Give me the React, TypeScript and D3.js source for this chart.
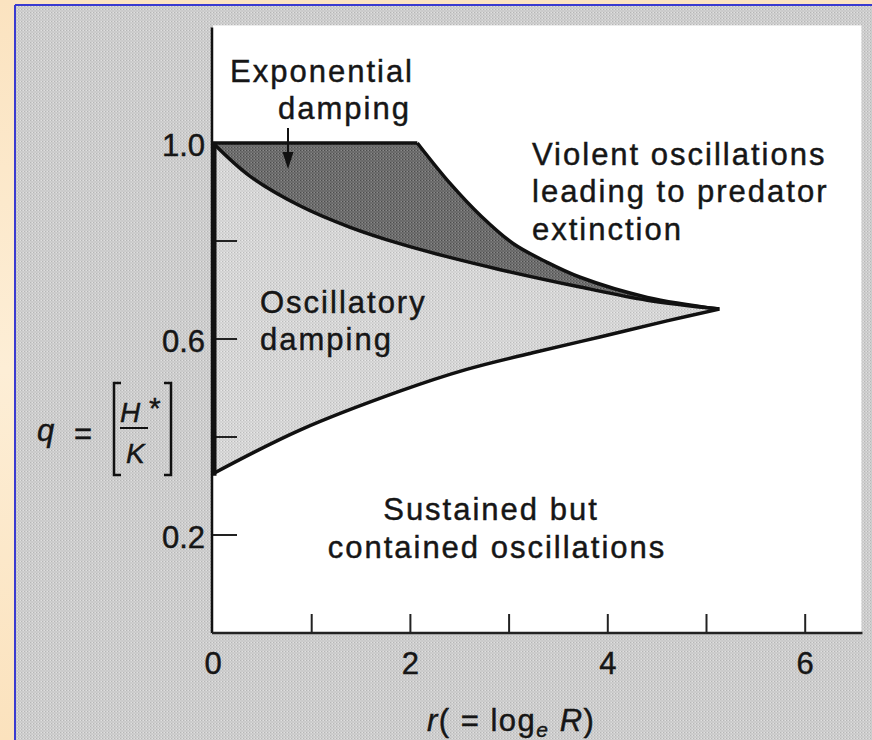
import React from "react";
import * as d3 from "d3";

// ---- data ----
const flatR = [0, 2.07];
const flatQ = [1.0, 1.0];
const upperR = [2.07, 2.4, 2.72, 3.04, 3.38, 3.72, 4.4, 5.13];
const upperQ = [1.0, 0.918, 0.85, 0.795, 0.757, 0.726, 0.685, 0.661];
const middleR = [0, 0.37, 0.88, 1.39, 1.9, 2.37, 2.9, 3.72, 4.4, 5.13];
const middleQ = [1.0, 0.933, 0.872, 0.828, 0.794, 0.768, 0.742, 0.706, 0.679, 0.661];
const lowerR = [0, 0.88, 1.9, 2.57, 3.24, 3.92, 4.6, 5.13];
const lowerQ = [0.325, 0.414, 0.494, 0.538, 0.572, 0.604, 0.637, 0.661];

const rTicks = [1, 2, 3, 4, 5, 6];
const rLabels = ["0", "2", "4", "6"];
const qTicks = [0.2, 0.4, 0.6, 0.8];
const qLabels = ["0.2", "0.6", "1.0"];

const rMax = 6.57;
const qMax = 1.24;

const FONT = "'Liberation Sans', Arial, Helvetica, sans-serif";

export default function App() {
  const x = d3.scaleLinear().domain([0, rMax]).range([213, 213 + rMax * 98.7]);
  const y = d3.scaleLinear().domain([0, 1]).range([633, 143]);

  const pts = (rs: number[], qs: number[]) => rs.map((r, i) => [r, qs[i]] as [number, number]);
  const line = d3
    .line<[number, number]>()
    .x((d) => x(d[0]))
    .y((d) => y(d[1]))
    .curve(d3.curveCatmullRom.alpha(0.5));
  const straight = d3
    .line<[number, number]>()
    .x((d) => x(d[0]))
    .y((d) => y(d[1]));

  const flat = pts(flatR, flatQ);
  const upper = pts(upperR, upperQ);
  const middle = pts(middleR, middleQ);
  const lower = pts(lowerR, lowerQ);

  const cont = (s: string | null) => (s || "").replace(/^M/, "L");

  const darkPath =
    (straight(flat) || "") + cont(line(upper)) + cont(line([...middle].reverse())) + "Z";
  const lightPath = (line(middle) || "") + cont(line([...lower].reverse())) + "Z";

  const textStyle: React.CSSProperties = {
    fontFamily: FONT,
    fontSize: 31,
    fill: "#161616",
    stroke: "#161616",
    strokeWidth: 0.45,
  };

  return (
    <svg
      width={872}
      height={740}
      style={{ position: "absolute", left: 0, top: 0, display: "block" }}
      xmlns="http://www.w3.org/2000/svg"
    >
      <defs>
        <linearGradient id="peach" x1="0" x2="0" y1="0" y2="1">
          <stop offset="0" stopColor="#fbe3c0" />
          <stop offset="0.5" stopColor="#fdeed6" />
          <stop offset="1" stopColor="#fbe2bd" />
        </linearGradient>
        <pattern id="bgTex" width="3" height="3" patternUnits="userSpaceOnUse">
          <rect width="3" height="3" fill="#cfcfcf" />
          <rect x="0" y="0" width="1" height="1" fill="#b6b6b6" />
          <rect x="1.5" y="1.5" width="1" height="1" fill="#bfbfbf" />
          <rect x="2" y="0" width="1" height="1" fill="#e0e0e0" />
        </pattern>
        <pattern id="lightTex" width="3" height="3" patternUnits="userSpaceOnUse">
          <rect width="3" height="3" fill="#d8d8d8" />
          <rect x="0" y="0" width="1" height="1" fill="#bcbcbc" />
          <rect x="1.5" y="1.5" width="1" height="1" fill="#c6c6c6" />
          <rect x="2" y="0" width="1" height="1" fill="#e8e8e8" />
        </pattern>
        <pattern id="darkTex" width="3" height="3" patternUnits="userSpaceOnUse">
          <rect width="3" height="3" fill="#707070" />
          <rect x="0" y="0" width="1" height="1" fill="#4c4c4c" />
          <rect x="1.5" y="1.5" width="1" height="1" fill="#585858" />
          <rect x="2" y="0" width="1" height="1" fill="#8a8a8a" />
        </pattern>
      </defs>

      {/* page frame */}
      <rect x={0} y={0} width={872} height={740} fill="url(#peach)" />
      <rect x={16} y={6} width={856} height={734} fill="url(#bgTex)" />
      <line x1={15} y1={5} x2={872} y2={5} stroke="#3a3ad0" strokeWidth={2} />
      <line x1={15} y1={5} x2={15} y2={740} stroke="#3a3ad0" strokeWidth={2} />

      {/* plot area */}
      <rect x={x(0)} y={y(qMax)} width={x(rMax) - x(0)} height={y(0) - y(qMax)} fill="#ffffff" />

      {/* regions */}
      <path d={lightPath} fill="url(#lightTex)" />
      <path d={darkPath} fill="url(#darkTex)" />

      {/* axes */}
      <line x1={x(0) - 1} y1={y(qMax) + 2} x2={x(0) - 1} y2={y(0)} stroke="#111" strokeWidth={2.5} />
      <line x1={x(0) - 1} y1={y(0)} x2={x(rMax) + 1} y2={y(0)} stroke="#222" strokeWidth={2.5} />
      {rTicks.map((t) => (
        <line key={"rt" + t} x1={x(t)} x2={x(t)} y1={y(0)} y2={y(0) - 19} stroke="#222" strokeWidth={2} />
      ))}
      {qTicks.map((t) => (
        <line key={"qt" + t} x1={x(0)} x2={x(0) + 24} y1={y(t)} y2={y(t)} stroke="#222" strokeWidth={2} />
      ))}

      {/* boundary curves */}
      <path d={straight(flat) || ""} fill="none" stroke="#111" strokeWidth={3.5} />
      <path d={line(upper) || ""} fill="none" stroke="#111" strokeWidth={3.5} />
      <path d={line(middle) || ""} fill="none" stroke="#111" strokeWidth={3.5} />
      <path d={line(lower) || ""} fill="none" stroke="#111" strokeWidth={3.5} />
      <line x1={x(0) + 1} x2={x(0) + 1} y1={y(1.0)} y2={y(lowerQ[0]) + 2} stroke="#111" strokeWidth={5} />

      {/* tick labels */}
      {rLabels.map((t) => (
        <text key={"rl" + t} x={x(+t)} y={674} textAnchor="middle" style={textStyle}>
          {t}
        </text>
      ))}
      {qLabels.map((t) => (
        <text key={"ql" + t} x={205} y={y(+t) + 13} textAnchor="end" style={textStyle}>
          {t}
        </text>
      ))}

      {/* region labels */}
      <g style={textStyle} letterSpacing={2}>
        <text x={230} y={82}>Exponential</text>
        <text x={278} y={119}>damping</text>
        <text x={532} y={165}>Violent oscillations</text>
        <text x={532} y={202}>leading to predator</text>
        <text x={532} y={240}>extinction</text>
        <text x={260} y={313}>Oscillatory</text>
        <text x={260} y={350}>damping</text>
        <text x={491} y={520} textAnchor="middle">Sustained but</text>
        <text x={497} y={558} textAnchor="middle">contained oscillations</text>
      </g>

      {/* arrow */}
      <line x1={288} x2={288} y1={128} y2={156} stroke="#111" strokeWidth={2} />
      <path d="M282.5,152 L293.5,152 L288,169 Z" fill="#111" />

      {/* y-axis title: q = [H star over K] */}
      <g style={{ fontFamily: FONT, fill: "#161616", stroke: "#161616", strokeWidth: 0.45 }}>
        <text x={37} y={441} fontSize={31} fontStyle="italic">q</text>
        <text x={74} y={444} fontSize={31}>=</text>
        <path d="M121,383 L114,383 L114,475 L121,475" fill="none" stroke="#111" strokeWidth={2.5} />
        <path d="M164,383 L171,383 L171,475 L164,475" fill="none" stroke="#111" strokeWidth={2.5} />
        <text x={120} y={422} fontSize={28} fontStyle="italic">H</text>
        <text x={149} y={418} fontSize={30}>*</text>
        <line x1={120} x2={148} y1={428} y2={428} stroke="#111" strokeWidth={2} />
        <text x={126} y={463} fontSize={28} fontStyle="italic">K</text>
      </g>

      {/* x-axis title */}
      <text
        x={427}
        y={731}
        letterSpacing={1.5}
        style={{ fontFamily: FONT, fontSize: 31, fill: "#161616", stroke: "#161616", strokeWidth: 0.45 }}
      >
        <tspan fontStyle="italic">r</tspan>
        <tspan>( = log</tspan>
        <tspan fontStyle="italic" fontSize={21} dy={6}>e</tspan>
        <tspan fontStyle="italic" dy={-6}> R</tspan>
        <tspan>)</tspan>
      </text>
    </svg>
  );
}
